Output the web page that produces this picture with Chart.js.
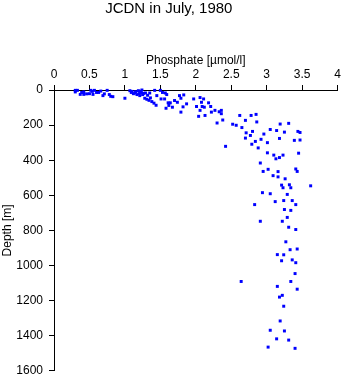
<!DOCTYPE html>
<html>
<head>
<meta charset="utf-8">
<script src="https://cdn.jsdelivr.net/npm/chart.js@4"></script>
<style>
  html, body { margin: 0; padding: 0; background: #fff; }
  #wrap { width: 345px; height: 384px; }
</style>
</head>
<body>
<div id="wrap"><canvas id="myChart" width="345" height="384"></canvas></div>
<script>
// JCDN station, July 1980: phosphate (umol/l) vs depth (m)
const phosphate = [
  0.30, 0.30, 0.33, 0.37, 0.39, 0.42, 0.42, 0.46, 0.50, 0.52, 0.54, 0.55, 0.57, 0.60, 0.63, 0.66,
  0.69, 0.71, 0.75, 0.78, 0.80, 0.83, 1.00, 1.07, 1.09, 1.12, 1.15, 1.17, 1.19, 1.20, 1.21, 1.23,
  1.24, 1.25, 1.28, 1.29, 1.32, 1.35, 1.36, 1.31, 1.34, 1.38, 1.42, 1.41, 1.44, 1.45, 1.50, 1.51,
  1.53, 1.56, 1.57, 1.59, 1.61, 1.58, 1.64, 1.67, 1.74, 1.77, 1.83, 1.79, 1.97, 2.06, 2.11,
  1.10, 1.14, 1.21, 1.26, 1.62, 1.70,
  1.87, 1.82, 2.01, 2.08, 2.09, 2.12, 2.18, 2.21, 1.79, 2.06, 2.22, 2.27, 2.33, 2.36, 2.36, 2.04,
  2.13, 2.38, 2.30, 2.62, 2.78, 2.85, 2.52, 2.57, 2.65, 2.70, 2.86, 3.19, 3.31, 2.71, 2.80, 2.77,
  2.96, 3.05, 3.14, 3.25, 3.44, 3.47, 2.70, 2.92, 2.84, 3.01, 3.18, 3.39, 3.47, 2.79, 2.88, 2.42,
  3.01, 3.10, 3.23, 3.13, 3.18, 3.45, 2.91, 3.02, 2.95, 3.16, 3.09, 3.16, 3.26, 3.41, 3.43, 3.21,
  3.23, 3.32, 3.34, 3.62, 2.94, 3.05, 3.29, 2.83, 3.12, 3.24, 3.36, 3.41, 3.25, 3.34, 2.91, 3.22,
  3.29, 3.31, 3.41, 3.27, 3.33, 3.43, 3.15, 3.24, 3.21, 3.36, 3.41, 3.40, 2.64, 3.34, 3.15, 3.43,
  3.22, 3.18, 3.24, 3.19, 3.05, 3.25, 3.14, 3.31, 3.02, 3.40
];
const depth = [
  2, 11, 2, 25, 14, 11, 25, 22, 21, 2, 8, 25, 2, 14, 14, 6,
  32, 22, 2, 26, 36, 38, 47, 4, 14, 21, 10, 26, 4, 21, 32, 14,
  0, 26, 47, 17, 30, 17, 45, 53, 59, 66, 2, 75, 87, 32, 2, 51,
  14, 51, 17, 26, 73, 104, 73, 98, 70, 32, 28, 47, 51, 43, 51,
  8, 17, 8, 20, 88, 60,
  79, 96, 94, 70, 94, 98, 73, 94, 126, 116, 126, 116, 124, 116, 135, 150,
  145, 171, 188, 145, 145, 139, 195, 201, 214, 173, 182, 194, 190, 244, 236, 259,
  251, 225, 231, 240, 236, 242, 274, 281, 293, 300, 276, 287, 285, 309, 330, 321,
  358, 371, 371, 392, 385, 360, 416, 452, 464, 465, 488, 495, 506, 450, 464, 542,
  557, 540, 557, 546, 585, 591, 595, 653, 636, 630, 630, 653, 681, 686, 748, 748,
  726, 782, 795, 865, 910, 906, 938, 939, 973, 968, 984, 1046, 1091, 1091, 1119, 1135,
  1170, 1180, 1232, 1316, 1369, 1373, 1418, 1425, 1465, 1472
];
const xTicks = [0, 0.5, 1, 1.5, 2, 2.5, 3, 3.5, 4];
const yTicks = [0, 200, 400, 600, 800, 1000, 1200, 1400, 1600];

const points = phosphate.map((p, i) => ({ x: p, y: depth[i] }));

const fontName = "'Liberation Sans', Arial, sans-serif";
const ctx = document.getElementById('myChart').getContext('2d');
const myChart = new Chart(ctx, {
    type: 'scatter',
    data: {
        datasets: [{
            label: 'Phosphate',
            data: points,
            pointStyle: 'rect',
            pointRadius: 2.1,
            pointBorderWidth: 0,
            backgroundColor: '#0000ff',
            borderColor: '#0000ff',
            clip: false
        }]
    },
    options: {
        responsive: false,
        animation: false,
        layout: { padding: { left: 0, top: 0, right: 7.4, bottom: 9.3 } },
        plugins: {
            legend: { display: false },
            tooltip: { enabled: false },
            title: {
                display: true,
                text: 'JCDN in July, 1980',
                color: '#000',
                font: { family: fontName, size: 15, weight: 'normal' },
                padding: { top: 0, bottom: 0 }
            }
        },
        scales: {
            x: {
                type: 'linear',
                position: 'top',
                min: xTicks[0],
                max: xTicks[xTicks.length - 1],
                afterBuildTicks: (s) => { s.ticks = xTicks.map(v => ({ value: v })); },
                afterFit: (s) => { s.height = 72; },
                ticks: {
                    color: '#000',
                    padding: 3,
                    font: { family: fontName, size: 12 },
                    callback: (v) => String(v)
                },
                grid: { drawOnChartArea: false, drawTicks: true, tickLength: 5, color: '#000' },
                border: { color: '#000', width: 1 },
                title: {
                    display: true,
                    text: 'Phosphate [µmol/l]',
                    color: '#000',
                    font: { family: fontName, size: 12 },
                    padding: { top: 35, bottom: 0 }
                }
            },
            y: {
                type: 'linear',
                reverse: true,
                min: yTicks[0],
                max: yTicks[yTicks.length - 1],
                afterBuildTicks: (s) => { s.ticks = yTicks.map(v => ({ value: v })); },
                afterFit: (s) => { s.width = 54; },
                ticks: {
                    color: '#000',
                    padding: 6,
                    font: { family: fontName, size: 12 },
                    callback: (v) => String(v)
                },
                grid: { drawOnChartArea: false, drawTicks: true, tickLength: 5, color: '#000' },
                border: { color: '#000', width: 1 },
                title: {
                    display: true,
                    text: 'Depth [m]',
                    color: '#000',
                    font: { family: fontName, size: 12 },
                    padding: { top: 0, bottom: 0 }
                }
            }
        }
    }
});
</script>
</body>
</html>
